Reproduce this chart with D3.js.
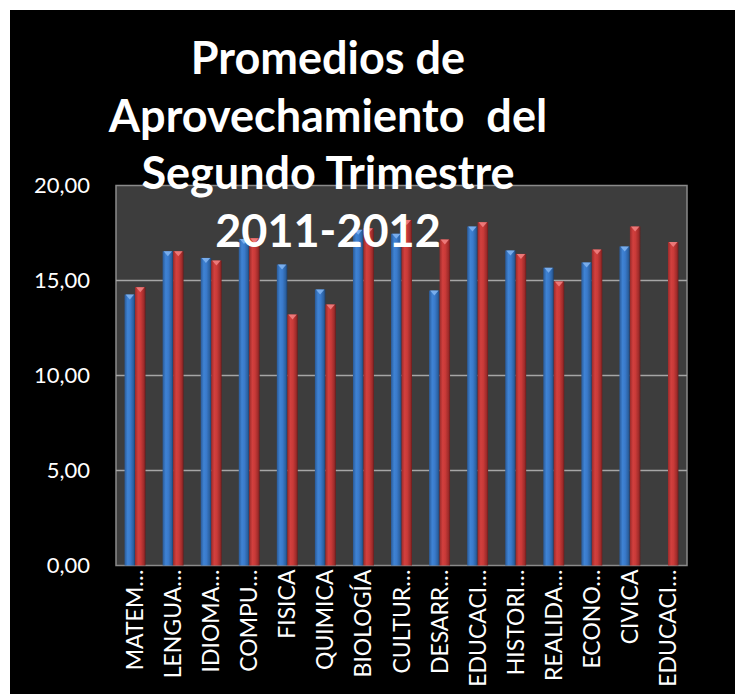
<!DOCTYPE html>
<html>
<head>
<meta charset="utf-8">
<script src="https://cdn.jsdelivr.net/npm/d3@7"></script>
<style>
  html, body { margin: 0; padding: 0; background: #ffffff; }
  svg { display: block; }
</style>
</head>
<body>
<svg id="chart" width="735" height="694"></svg>
<script>
// Subject names (as shown, truncated) and the two sets of averages
const categories = ["MATEM…", "LENGUA…", "IDIOMA…", "COMPU…", "FISICA", "QUIMICA", "BIOLOGÍA",
  "CULTUR…", "DESARR…", "EDUCACI…", "HISTORI…", "REALIDA…", "ECONO…", "CIVICA", "EDUCACI…"];
const serie1 = [14.26, 16.54, 16.19, 17.19, 15.84, 14.53, 17.67, 17.46, 14.47, 17.84, 16.58, 15.67, 15.95, 16.79, null];
const serie2 = [14.65, 16.54, 16.05, 17.23, 13.21, 13.74, 17.75, 18.19, 17.16, 18.07, 16.40, 14.95, 16.63, 17.84, 17.02];
const yTicks = [0, 5, 10, 15, 20];
const titleLines = ["Promedios de", "Aprovechamiento  del", "Segundo Trimestre", "2011-2012"];

const svg = d3.select("#chart");
const W = 735, H = 694;
const plot = { left: 116, right: 687, top: 185.5, bottom: 565.5 };

// Black chart background
svg.append("rect").attr("x", 10).attr("y", 10).attr("width", W - 10).attr("height", H - 10).attr("fill", "#000");

// Gradients for the cylinder-like columns
const defs = svg.append("defs");
function grad(id, stops) {
  const g = defs.append("linearGradient").attr("id", id).attr("x1", 0).attr("x2", 1).attr("y1", 0).attr("y2", 0);
  stops.forEach(([o, c]) => g.append("stop").attr("offset", o).attr("stop-color", c));
}
grad("gBlue", [[0, "#2a5a98"], [0.3, "#3f83d4"], [0.55, "#3a7acb"], [0.85, "#2b609f"], [1, "#1c3f6c"]]);
grad("gRed", [[0, "#9a2a2a"], [0.3, "#d2403e"], [0.55, "#c93a38"], [0.85, "#9d2b2a"], [1, "#6a1b1b"]]);

const x0 = d3.scaleBand().domain(d3.range(categories.length)).range([plot.left, plot.right])
  .paddingInner(0.45).paddingOuter(0.225);
const x1 = d3.scaleBand().domain([0, 1]).range([0, x0.bandwidth()]);
const y = d3.scaleLinear().domain([0, 20]).range([plot.bottom, plot.top]);

// Plot area
svg.append("rect").attr("x", plot.left).attr("y", plot.top)
  .attr("width", plot.right - plot.left).attr("height", plot.bottom - plot.top)
  .attr("fill", "#3d3d3d").attr("stroke", "#8a8a8a").attr("stroke-width", 1.5);

// Gridlines
svg.append("g").selectAll("line").data(yTicks.filter(t => t > 0 && t < 20)).join("line")
  .attr("x1", plot.left).attr("x2", plot.right)
  .attr("y1", d => y(d)).attr("y2", d => y(d))
  .attr("stroke", "#a6a6a6").attr("stroke-width", 1.5);

// Y axis labels
const yAxis = d3.axisLeft(y).tickValues(yTicks).tickSize(0).tickPadding(26)
  .tickFormat(d => d3.format(".2f")(d).replace(".", ","));
const gy = svg.append("g").attr("transform", `translate(${plot.left},0)`).call(yAxis);
gy.select(".domain").remove();
gy.selectAll("text").attr("fill", "#fff").attr("font-family", "Lato, sans-serif").attr("font-size", 22);

// Columns
const series = [
  { values: serie1, fill: "url(#gBlue)", cap: "#7fb3ef" },
  { values: serie2, fill: "url(#gRed)", cap: "#ef8080" }
];
const barsG = svg.append("g");
series.forEach((s, si) => {
  const data = s.values.map((v, i) => ({ v, i })).filter(d => d.v != null);
  const g = barsG.append("g");
  g.selectAll("rect").data(data).join("rect")
    .attr("x", d => x0(d.i) + x1(si))
    .attr("y", d => y(d.v))
    .attr("width", x1.bandwidth())
    .attr("height", d => y(0) - y(d.v))
    .attr("fill", s.fill);
  // light bevel at the top of each column
  g.selectAll("path").data(data).join("path")
    .attr("d", d => {
      const xl = x0(d.i) + x1(si), xr = xl + x1.bandwidth(), yt = y(d.v);
      return `M${xl + 1},${yt}L${xr - 1},${yt}L${(xl + xr) / 2},${yt + 5}Z`;
    })
    .attr("fill", s.cap).attr("opacity", 0.9);
});

// Category labels, rotated
const xAxis = d3.axisBottom(x0).tickSize(0).tickFormat(i => categories[i]);
const gx = svg.append("g").attr("transform", `translate(0,${plot.bottom})`).call(xAxis);
gx.select(".domain").remove();
gx.selectAll("text")
  .attr("fill", "#fff").attr("font-family", "Lato, sans-serif").attr("font-size", 23)
  .attr("text-anchor", "end").attr("dy", "0.35em")
  .attr("transform", "translate(0,4) rotate(-90)")
  .attr("x", 0).attr("y", 0);

// Title
svg.append("g").selectAll("text").data(titleLines).join("text")
  .attr("x", 328).attr("y", (d, i) => 74 + i * 57.5)
  .attr("text-anchor", "middle")
  .attr("fill", "#fff").attr("font-family", "Lato, sans-serif").attr("font-weight", "bold")
  .attr("font-size", 45).attr("xml:space", "preserve").style("white-space", "pre")
  .text(d => d);
</script>
</body>
</html>
